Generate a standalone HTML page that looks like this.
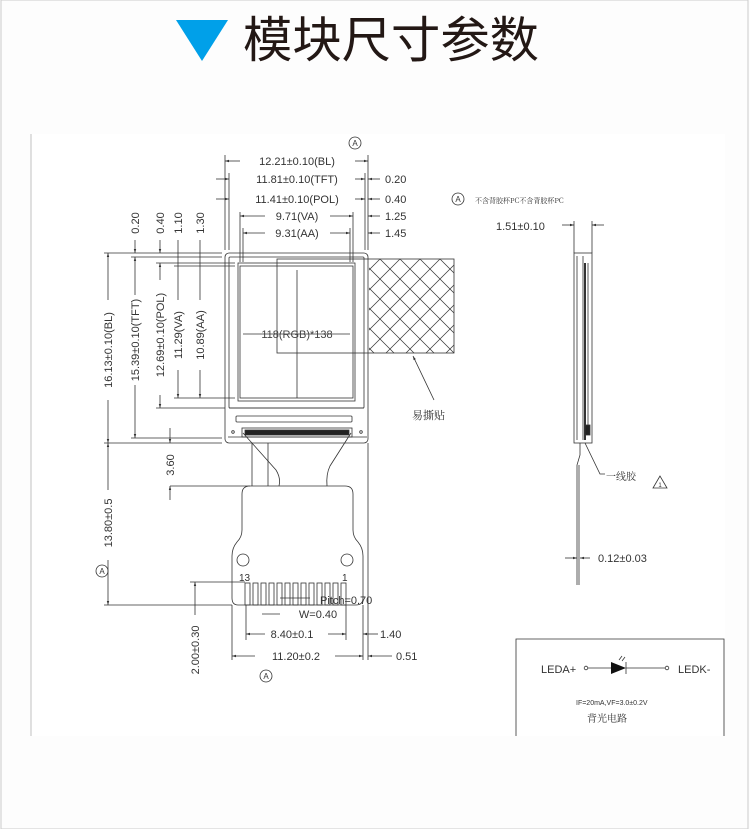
<!DOCTYPE html>
<html><head><meta charset="utf-8"><style>
html,body{margin:0;padding:0;background:#fdfdfd;width:750px;height:829px;overflow:hidden}
svg{display:block}
text{font-family:"Liberation Sans","Noto Sans CJK SC",sans-serif;fill:#333}
</style></head><body>
<svg width="750" height="829" viewBox="0 0 750 829" xmlns="http://www.w3.org/2000/svg">
<defs>
<marker id="ar" viewBox="0 0 10 10" refX="10" refY="5" markerWidth="7" markerHeight="5" orient="auto-start-reverse"><path d="M0,2 L10,5 L0,8z" fill="#333"/></marker>
<clipPath id="hc"><rect x="369" y="259" width="85" height="94"/></clipPath>
</defs>
<rect x="1" y="0" width="747" height="829" fill="#fdfdfd" stroke="#ccc" stroke-width="1"/>
<rect x="31" y="134" width="694" height="602" fill="#fff"/>
<line x1="31" y1="134" x2="31" y2="736" stroke="#999" stroke-width="0.6"/>
<!-- title -->
<polygon points="176,20 228,20 202,61" fill="#00a0e9"/>
<text x="243" y="57" font-size="49" textLength="296" lengthAdjust="spacingAndGlyphs" style="fill:#231815;font-family:'Noto Sans CJK SC',sans-serif">模块尺寸参数</text>

<g stroke="#333" stroke-width="0.8" fill="none">
<!-- LCD -->
<rect x="225" y="253" width="143" height="190" rx="4"/>
<rect x="229" y="257" width="135" height="151" rx="1"/>
<rect x="238" y="263" width="117" height="138"/>
<rect x="240" y="266" width="113" height="132"/>
<line x1="229" y1="408" x2="364" y2="408"/>
<rect x="236" y="416" width="116" height="6" rx="1"/>
<rect x="242" y="428" width="110" height="9"/>
<rect x="245" y="430" width="104" height="5" fill="#222"/>
<line x1="228" y1="437" x2="367" y2="437"/>
<circle cx="233" cy="432" r="1.3"/><circle cx="361" cy="432" r="1.3"/>
<!-- crosshair -->
<line x1="297" y1="270" x2="297" y2="398"/>
<line x1="243" y1="334" x2="350" y2="334"/>
<rect x="277" y="259" width="177" height="94"/>
<!-- hatch -->
<g clip-path="url(#hc)" stroke-width="0.7">
<path d="M340,259 l94,94 M360,259 l94,94 M380,259 l94,94 M400,259 l94,94 M420,259 l94,94 M440,259 l94,94 M320,259 l94,94 M300,259 l94,94 M280,259 l94,94 M260,259 l94,94"/>
<path d="M480,259 l-94,94 M460,259 l-94,94 M440,259 l-94,94 M420,259 l-94,94 M400,259 l-94,94 M380,259 l-94,94 M500,259 l-94,94 M520,259 l-94,94 M540,259 l-94,94"/>
</g>
<line x1="434" y1="400" x2="413" y2="356" marker-end="url(#ar)"/>
<!-- neck -->
<line x1="252" y1="443" x2="252" y2="486"/>
<line x1="268" y1="443" x2="268" y2="486"/>
<path d="M243,433 L276,470 Q281,478 279,486"/>
<path d="M351,433 L330,466 Q326,474 327,486"/>
<!-- FPC -->
<path d="M250,486 H345 Q353,486 353,494 V530 Q353,537 358,542 Q363,548 363,556 V598 Q363,605 356,605 H238 Q232,605 232,598 V556 Q232,548 237,542 Q242,537 242,530 V494 Q242,486 250,486 Z"/>
<circle cx="243" cy="560" r="6"/><circle cx="347" cy="560" r="6"/>
<g>
<rect x="245" y="583" width="5" height="22"/><rect x="253" y="583" width="5" height="22"/><rect x="261" y="583" width="5" height="22"/><rect x="269" y="583" width="5" height="22"/><rect x="277" y="583" width="5" height="22"/><rect x="285" y="583" width="5" height="22"/><rect x="293" y="583" width="5" height="22"/><rect x="301" y="583" width="5" height="22"/><rect x="309" y="583" width="5" height="22"/><rect x="317" y="583" width="5" height="22"/><rect x="325" y="583" width="5" height="22"/><rect x="333" y="583" width="5" height="22"/><rect x="341" y="583" width="5" height="22"/>
</g>

<!-- top dims extension lines -->
<line x1="225" y1="155" x2="225" y2="250"/><line x1="229" y1="173" x2="229" y2="250"/>
<line x1="368" y1="155" x2="368" y2="250"/><line x1="365" y1="173" x2="365" y2="250"/>
<line x1="240" y1="212" x2="240" y2="262"/><line x1="243" y1="228" x2="243" y2="262"/>
<line x1="353" y1="212" x2="353" y2="262"/><line x1="350" y1="228" x2="350" y2="262"/>
<line x1="225" y1="161" x2="240" y2="161" marker-start="url(#ar)"/>
<line x1="355" y1="161" x2="368" y2="161" marker-end="url(#ar)"/>
<line x1="216" y1="179" x2="229" y2="179" marker-end="url(#ar)"/>
<line x1="355" y1="179" x2="365" y2="179" marker-end="url(#ar)"/>
<line x1="368" y1="179" x2="380" y2="179" marker-start="url(#ar)"/>
<line x1="216" y1="199" x2="229" y2="199" marker-end="url(#ar)"/>
<line x1="355" y1="199" x2="365" y2="199" marker-end="url(#ar)"/>
<line x1="368" y1="199" x2="380" y2="199" marker-start="url(#ar)"/>
<line x1="240" y1="216" x2="265" y2="216" marker-start="url(#ar)"/>
<line x1="330" y1="216" x2="353" y2="216" marker-end="url(#ar)"/>
<line x1="368" y1="216" x2="380" y2="216" marker-start="url(#ar)"/>
<line x1="243" y1="233" x2="265" y2="233" marker-start="url(#ar)"/>
<line x1="330" y1="233" x2="350" y2="233" marker-end="url(#ar)"/>
<line x1="368" y1="233" x2="380" y2="233" marker-start="url(#ar)"/>

<!-- left dims -->
<line x1="104" y1="253" x2="222" y2="253"/>
<line x1="131" y1="257" x2="222" y2="257"/>
<line x1="156" y1="263" x2="235" y2="263"/>
<line x1="174" y1="266" x2="235" y2="266"/>
<line x1="174" y1="398" x2="235" y2="398"/>
<line x1="156" y1="408" x2="225" y2="408"/>
<line x1="131" y1="438" x2="222" y2="438"/>
<line x1="104" y1="443" x2="222" y2="443"/>
<line x1="108" y1="253" x2="108" y2="300" marker-start="url(#ar)"/>
<line x1="108" y1="400" x2="108" y2="443" marker-end="url(#ar)"/>
<line x1="135" y1="240" x2="135" y2="253" marker-end="url(#ar)"/>
<line x1="135" y1="257" x2="135" y2="295" marker-start="url(#ar)"/>
<line x1="135" y1="385" x2="135" y2="438" marker-end="url(#ar)"/>
<line x1="160" y1="240" x2="160" y2="253" marker-end="url(#ar)"/>
<line x1="160" y1="263" x2="160" y2="280" marker-start="url(#ar)"/>
<line x1="160" y1="395" x2="160" y2="408" marker-end="url(#ar)"/>
<line x1="178" y1="240" x2="178" y2="300" />
<line x1="178" y1="370" x2="178" y2="398" marker-end="url(#ar)"/>
<line x1="200" y1="240" x2="200" y2="300"/>
<line x1="200" y1="370" x2="200" y2="398" marker-end="url(#ar)"/>

<!-- bottom-left dims -->
<line x1="108" y1="443" x2="108" y2="490" marker-start="url(#ar)"/>
<line x1="108" y1="560" x2="108" y2="605" marker-end="url(#ar)"/>
<line x1="104" y1="605" x2="232" y2="605"/>
<line x1="170" y1="486" x2="250" y2="486"/>
<line x1="170" y1="428" x2="170" y2="443" marker-end="url(#ar)"/>
<line x1="170" y1="486" x2="170" y2="500" marker-start="url(#ar)"/>
<line x1="190" y1="582" x2="245" y2="582"/>
<line x1="195" y1="582" x2="195" y2="605" marker-start="url(#ar)"/>
<line x1="195" y1="605" x2="195" y2="615"/>
<line x1="246" y1="605" x2="246" y2="640"/><line x1="346" y1="605" x2="346" y2="640"/>
<line x1="232" y1="605" x2="232" y2="660"/><line x1="363" y1="605" x2="363" y2="660"/>
<line x1="368" y1="443" x2="368" y2="660"/>
<line x1="280" y1="598" x2="310" y2="598"/>
<line x1="262" y1="614" x2="280" y2="614"/>
<line x1="246" y1="634" x2="265" y2="634" marker-start="url(#ar)"/>
<line x1="328" y1="634" x2="346" y2="634" marker-end="url(#ar)"/>
<line x1="363" y1="634" x2="378" y2="634" marker-start="url(#ar)"/>
<line x1="232" y1="656" x2="255" y2="656" marker-start="url(#ar)"/>
<line x1="335" y1="656" x2="363" y2="656" marker-end="url(#ar)"/>
<line x1="368" y1="656" x2="392" y2="656" marker-start="url(#ar)"/>

<!-- side view -->
<line x1="574" y1="221" x2="574" y2="253"/><line x1="592" y1="221" x2="592" y2="253"/>
<line x1="562" y1="225" x2="574" y2="225" marker-end="url(#ar)"/>
<line x1="604" y1="225" x2="592" y2="225" marker-end="url(#ar)"/>
<rect x="574" y="253" width="18" height="190"/>
<line x1="577" y1="256" x2="577" y2="440"/>
<line x1="583" y1="256" x2="583" y2="440"/>
<line x1="585" y1="263" x2="585" y2="440" stroke-width="2"/>
<line x1="588" y1="263" x2="588" y2="425"/>
<rect x="585" y="425" width="5" height="10" fill="#222"/>
<path d="M580,443 V455 L577,465 V585"/>
<line x1="579" y1="465" x2="579" y2="585"/>
<path d="M585,443 L600,474 H605"/>
<line x1="565" y1="558" x2="577" y2="558" marker-end="url(#ar)"/>
<line x1="590" y1="558" x2="580" y2="558" marker-end="url(#ar)"/>
<polygon points="660,476 653,488 667,488"/>

<!-- circles A -->
<circle cx="355" cy="143" r="6"/>
<circle cx="458" cy="199" r="6"/>
<circle cx="102" cy="571" r="6"/>
<circle cx="266" cy="676" r="6"/>

<!-- circuit -->
<path d="M516,736 V639 H724 V736"/>
<circle cx="586" cy="668" r="1.8"/><circle cx="667" cy="668" r="1.8"/>
<line x1="588" y1="668" x2="611" y2="668"/>
<line x1="626" y1="668" x2="665" y2="668"/>
<line x1="626" y1="662" x2="626" y2="674"/>
<line x1="619" y1="660" x2="622" y2="656"/><line x1="622" y1="661" x2="625" y2="657"/>
</g>
<polygon points="611,662 611,674 626,668" fill="#111"/>

<!-- texts -->
<g font-size="11" text-anchor="middle">
<text x="297" y="165">12.21±0.10(BL)</text>
<text x="297" y="183">11.81±0.10(TFT)</text>
<text x="297" y="203">11.41±0.10(POL)</text>
<text x="297" y="220">9.71(VA)</text>
<text x="297" y="237">9.31(AA)</text>
<text x="297" y="338" style="fill:#444">118(RGB)*138</text>
<text x="292" y="638">8.40±0.1</text>
<text x="296" y="660">11.20±0.2</text>
<text x="318" y="618">W=0.40</text>
</g>
<g font-size="11">
<text x="385" y="183">0.20</text>
<text x="385" y="203">0.40</text>
<text x="385" y="220">1.25</text>
<text x="385" y="237">1.45</text>
<text x="320" y="604">Pitch=0.70</text>
<text x="380" y="638">1.40</text>
<text x="396" y="660">0.51</text>
<text x="496" y="230">1.51±0.10</text>
<text x="598" y="562">0.12±0.03</text>
<text x="239" y="581" font-size="10">13</text>
<text x="342" y="581" font-size="10">1</text>
<text x="541" y="673">LEDA+</text>
<text x="678" y="673">LEDK-</text>
</g>
<g font-size="11" text-anchor="middle">
<text transform="translate(112,350) rotate(-90)">16.13±0.10(BL)</text>
<text transform="translate(139,340) rotate(-90)">15.39±0.10(TFT)</text>
<text transform="translate(164,335) rotate(-90)">12.69±0.10(POL)</text>
<text transform="translate(182,335) rotate(-90)">11.29(VA)</text>
<text transform="translate(204,335) rotate(-90)">10.89(AA)</text>
<text transform="translate(139,223) rotate(-90)">0.20</text>
<text transform="translate(164,223) rotate(-90)">0.40</text>
<text transform="translate(182,223) rotate(-90)">1.10</text>
<text transform="translate(204,223) rotate(-90)">1.30</text>
<text transform="translate(112,523) rotate(-90)">13.80±0.5</text>
<text transform="translate(174,465) rotate(-90)">3.60</text>
<text transform="translate(199,650) rotate(-90)">2.00±0.30</text>
</g>
<g font-size="8" text-anchor="middle">
<text x="355" y="146">A</text><text x="458" y="202">A</text><text x="102" y="574">A</text><text x="266" y="679">A</text>
<text x="660" y="487" font-size="6">1</text>
</g>
<text x="412" y="419" font-size="11" style="font-family:'Noto Serif CJK SC',serif;fill:#333">易撕贴</text>
<text x="475" y="203" font-size="7" style="font-family:'Noto Serif CJK SC',serif;fill:#333">不含背胶杯PC不含背胶杯PC</text>
<text x="606" y="480" font-size="10" style="font-family:'Noto Serif CJK SC',serif;fill:#333">一线胶</text>
<text x="576" y="705" font-size="7">IF=20mA,VF=3.0±0.2V</text>
<text x="587" y="722" font-size="10" style="font-family:'Noto Serif CJK SC',serif;fill:#333">背光电路</text>
</svg>
</body></html>
